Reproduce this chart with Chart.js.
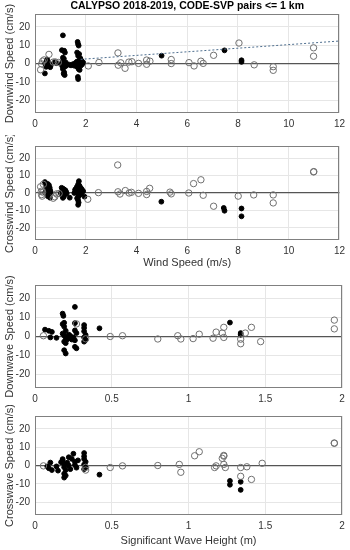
<!DOCTYPE html>
<html>
<head>
<meta charset="utf-8">
<script src="https://cdn.jsdelivr.net/npm/chart.js@4.4.0/dist/chart.umd.min.js"></script>
<style>
  html, body { margin: 0; padding: 0; background: #fff; }
  #page { position: relative; width: 350px; height: 550px; }
  .panel { position: absolute; left: 0; width: 350px; }
</style>
</head>
<body>
<div id="page">
  <div class="panel" style="top:0;height:135px"><canvas id="downwind"></canvas></div>
  <div class="panel" style="top:135px;height:135px"><canvas id="crosswind"></canvas></div>
  <div class="panel" style="top:270px;height:135px"><canvas id="downwave"></canvas></div>
  <div class="panel" style="top:405px;height:145px"><canvas id="crosswave"></canvas></div>
</div>
<script>
// tick labels
const WIND_TICKS = [0, 2, 4, 6, 8, 10, 12];
const HS_TICKS = [0, 0.5, 1, 1.5, 2];
const SPEED_TICKS = [-20, -10, 0, 10, 20];

// downwind speed vs wind speed, [wind, cm/s]
const downwindOpen = [[0.22, -3.4], [0.26, -0.2], [0.3, 1.3], [0.36, 2.0], [0.55, 5.0], [0.72, 0.8], [0.8, 0.9], [0.92, 0.6],
  [2.1, -1.3], [2.52, 0.6], [3.27, 5.8], [3.28, -0.9], [3.38, 0.4], [3.55, -2.6], [3.7, 0.8], [3.82, 1.0], [4.08, 0.1],
  [4.4, 1.9], [4.4, -0.4], [4.53, 1.3], [5.37, 2.2], [5.37, 0.0], [6.07, 0.5], [6.27, -1.3], [6.54, 1.3], [6.63, 0.1],
  [7.04, 4.5], [8.04, 11.2], [8.64, -0.7], [9.39, -1.7], [9.39, -3.7], [10.98, 8.6], [10.98, 4.0]];
const downwindFilled = [[0.39, -5.4], [0.42, -0.8], [0.45, 0.6], [0.47, 1.5], [0.5, -0.3], [0.52, -1.4], [0.55, 0.3],
  [0.58, -0.6], [0.6, -2.0], [0.62, -1.0], [0.44, -1.8], [0.48, 2.2], [0.4, 0.2], [0.78, 0.8], [0.85, 0.2],
  [1.1, 15.4], [1.06, 7.3], [1.15, 7.0], [1.18, 6.0], [1.1, 3.2], [1.14, 2.6], [1.08, 1.0], [1.12, 0.3], [1.16, -0.5],
  [1.07, -1.2], [1.12, -2.0], [1.2, -1.5], [1.1, -3.0], [1.15, -4.8], [1.13, -5.6], [1.17, -6.3], [1.05, -0.3],
  [1.22, 0.5], [1.25, -0.8], [1.35, -0.6], [1.42, -1.0], [1.5, -0.3], [1.55, -1.2],
  [1.68, 11.8], [1.7, 10.6], [1.72, 9.8], [1.66, 6.0], [1.74, 5.2], [1.7, 4.2], [1.78, 3.0], [1.65, 1.0], [1.7, 0.2],
  [1.75, -0.5], [1.62, -0.8], [1.8, -1.2], [1.68, -2.0], [1.72, -3.0], [1.76, -3.5], [1.69, -7.3], [1.7, -8.5],
  [1.83, 1.5], [1.86, -0.4], [1.6, 0.3], [1.9, 0.5], [1.8, 2.2], [1.66, -1.5], [1.74, 1.6],
  [4.99, 4.3], [7.47, 7.2], [8.14, 1.8], [8.14, 0.9]];
const downwindFit = [[1.8, 2.3], [12, 12.3]];

// crosswind speed vs wind speed
const crosswindOpen = [[0.22, 3.6], [0.25, 1.0], [0.26, -0.9], [0.28, -1.8], [0.33, 5.0], [0.3, 0.5], [0.72, -3.0],
  [0.78, -2.2], [0.85, -0.5], [0.95, -0.3], [2.08, -3.6], [2.5, 0.2], [3.26, 16.1], [3.27, 0.7], [3.35, -0.6],
  [3.56, 1.4], [3.71, 0.0], [3.8, 0.4], [4.08, -0.2], [4.4, 0.9], [4.4, -0.9], [4.52, 2.7], [5.32, 0.5], [5.37, -0.5],
  [6.06, 0.0], [6.25, 5.4], [6.54, 7.6], [6.63, -1.3], [7.04, -7.6], [8.01, -1.8], [8.62, -1.1], [9.39, -1.1],
  [9.39, -5.7], [10.98, 12.1], [10.99, 12.3]];
const crosswindFilled = [[0.39, 6.3], [0.42, 5.0], [0.45, 3.6], [0.4, 0.3], [0.47, 0.0], [0.5, 5.2], [0.55, 4.5],
  [0.58, 3.0], [0.6, 1.5], [0.52, 2.0], [0.5, -1.8], [0.59, -2.7], [0.45, -0.6], [0.62, 0.4],
  [1.05, 3.0], [1.1, 2.5], [1.15, 2.0], [1.2, 1.5], [1.08, 1.0], [1.12, 0.2], [1.18, -0.5], [1.06, -1.2], [1.14, -2.0],
  [1.1, -2.8], [1.22, 0.8], [1.25, -0.3], [1.37, -2.7], [1.02, -0.2],
  [1.73, 6.8], [1.7, 5.0], [1.75, 4.2], [1.65, 3.5], [1.8, 3.0], [1.6, 2.2], [1.85, 2.0], [1.7, 1.5], [1.78, 0.8],
  [1.62, 0.5], [1.68, -0.3], [1.76, -1.0], [1.72, -2.0], [1.66, -3.0], [1.7, -4.2], [1.72, -5.5], [1.7, -6.8],
  [1.95, -2.1], [1.55, 0.0], [1.58, 1.8], [1.82, -0.5], [1.9, 1.0],
  [4.98, -5.0], [7.44, -8.6], [7.47, -10.2], [8.14, -8.9], [8.14, -13.4]];

// downwave speed vs significant wave height
const downwaveOpen = [[0.055, 0.4], [0.27, 6.6], [0.33, -1.2], [0.49, 0.0], [0.57, 0.4], [0.8, -1.3], [0.93, 0.4],
  [0.95, -1.3], [1.03, -1.1], [1.07, 1.2], [1.16, -0.9], [1.18, 2.3], [1.22, 1.8], [1.23, -0.5], [1.23, 4.8],
  [1.34, -1.4], [1.34, -3.8], [1.37, 1.8], [1.41, 4.8], [1.47, -2.7], [1.95, 8.6], [1.95, 4.0]];
const downwaveFilled = [[0.065, 3.6], [0.09, 3.0], [0.11, 2.4], [0.1, -0.5], [0.14, -0.7], [0.18, 12.0], [0.185, 10.8],
  [0.19, 7.2], [0.18, 6.5], [0.19, 5.2], [0.2, 3.0], [0.18, 1.5], [0.19, 0.5], [0.2, -0.5], [0.21, -1.5], [0.19, -2.7],
  [0.2, -3.5], [0.19, -7.2], [0.2, -8.9], [0.22, -0.8], [0.23, 0.3], [0.24, -1.6], [0.22, 1.0],
  [0.26, 15.5], [0.26, 7.0], [0.26, 3.2], [0.27, 1.8], [0.25, -0.5], [0.26, -2.0], [0.26, -5.4], [0.27, -6.2],
  [0.32, 6.0], [0.32, 4.5], [0.32, 2.7], [0.33, 0.8], [0.32, -0.5], [0.33, -1.8], [0.32, -2.7],
  [0.42, 4.3], [1.27, 7.3], [1.34, 1.8], [1.34, 0.9]];

// crosswave speed vs significant wave height
const crosswaveOpen = [[0.055, -0.2], [0.33, -2.5], [0.33, -1.0], [0.49, -1.1], [0.57, -0.2], [0.8, 0.0], [0.94, 0.6],
  [0.95, -3.7], [1.04, 5.3], [1.07, 7.5], [1.17, -1.1], [1.18, -0.2], [1.22, 3.9], [1.23, 5.1], [1.23, 5.5],
  [1.23, 0.6], [1.24, -1.1], [1.34, -1.1], [1.34, -5.9], [1.38, -0.7], [1.41, -7.6], [1.48, 1.2], [1.95, 12.1],
  [1.95, 12.3]];
const crosswaveFilled = [[0.08, -0.5], [0.1, 1.6], [0.09, -1.5], [0.11, -2.5], [0.14, -0.5], [0.15, -2.8], [0.17, 1.8],
  [0.18, 2.8], [0.18, 3.5], [0.19, 0.8], [0.19, -1.0], [0.2, -2.5], [0.19, -4.5], [0.19, -6.6], [0.2, -5.5],
  [0.21, 1.5], [0.22, 4.5], [0.22, 0.0], [0.23, -2.0], [0.24, 3.6], [0.25, 6.4], [0.26, 2.0], [0.26, 0.3],
  [0.27, -1.2], [0.28, 2.8], [0.32, 6.8], [0.32, 5.0], [0.32, 3.5], [0.33, 2.0], [0.32, 0.5], [0.33, -1.0],
  [0.32, -2.0], [0.42, -5.0], [1.27, -8.4], [1.27, -10.5], [1.34, -8.9], [1.34, -13.3]];

Chart.defaults.font.family = '"Liberation Sans", Arial, sans-serif';
Chart.defaults.color = '#333';

// MATLAB style box around the plot area
const boxPlugin = {
  id: 'box',
  afterDraw: function (chart) {
    var a = chart.chartArea, ctx = chart.ctx;
    ctx.save();
    ctx.strokeStyle = '#808080';
    ctx.lineWidth = 1;
    ctx.strokeRect(Math.round(a.left) + 0.5, Math.round(a.top) + 0.5, Math.round(a.width) - 1, Math.round(a.height) - 1);
    ctx.restore();
  }
};

function toPoints(list) {
  return list.map(function (p) { return { x: p[0], y: p[1] }; });
}

function fixedTicks(values) {
  return function (scale) {
    scale.ticks = values.map(function (v) { return { value: v }; });
  };
}

function makePanel(id, cfg) {
  var datasets = [];
  if (cfg.fit) {
    datasets.push({
      data: toPoints(cfg.fit), showLine: true, borderColor: '#4f6f8f', borderWidth: 1,
      borderDash: [2, 2], pointRadius: 0
    });
  }
  datasets.push({
    data: toPoints(cfg.open), pointRadius: 3.2, borderWidth: 1,
    borderColor: '#707070', backgroundColor: 'rgba(255,255,255,0)'
  });
  datasets.push({
    data: toPoints(cfg.filled), pointRadius: 2.4, borderWidth: 1,
    borderColor: '#000', backgroundColor: '#000'
  });
  return new Chart(document.getElementById(id), {
    type: 'scatter',
    data: { datasets: datasets },
    options: {
      animation: false,
      responsive: true,
      maintainAspectRatio: false,
      devicePixelRatio: 1,
      layout: { padding: { top: cfg.padTop, right: 8, bottom: 0, left: 0 } },
      plugins: {
        legend: { display: false },
        tooltip: { enabled: false },
        title: {
          display: !!cfg.title, text: cfg.title, fullSize: false, color: '#000',
          font: { size: 10.5, weight: 'bold' }, padding: { top: 0, bottom: 1.5 }
        }
      },
      scales: {
        x: {
          type: 'linear', min: cfg.xTicks[0], max: cfg.xTicks[cfg.xTicks.length - 1],
          afterBuildTicks: fixedTicks(cfg.xTicks),
          afterFit: function (s) { s.height = cfg.xHeight; },
          border: { display: false },
          grid: { color: '#e6e6e6', drawTicks: false },
          ticks: { font: { size: 10 }, padding: 5, maxRotation: 0, callback: function (v) { return String(v); } },
          title: {
            display: !!cfg.xTitle, text: cfg.xTitle, font: { size: 11 }, color: '#333',
            padding: { top: 0, bottom: cfg.xTitlePad || 0 }
          }
        },
        y: {
          min: -27, max: 27,
          afterBuildTicks: fixedTicks(SPEED_TICKS),
          afterFit: function (s) { s.width = 35; },
          border: { display: false },
          grid: {
            drawTicks: false,
            color: function (c) { return c.tick && c.tick.value === 0 ? '#555' : '#e6e6e6'; },
            lineWidth: function (c) { return c.tick && c.tick.value === 0 ? 1.2 : 1; }
          },
          ticks: { font: { size: 10 }, padding: 5, callback: function (v) { return String(v); } },
          title: { display: true, text: cfg.yTitle, font: { size: 11 }, color: '#333', padding: { top: 3, bottom: 0 } }
        }
      }
    },
    plugins: [boxPlugin]
  });
}

makePanel('downwind', {
  title: 'CALYPSO 2018-2019, CODE-SVP pairs <= 1 km', yTitle: 'Downwind Speed (cm/s)',
  xTicks: WIND_TICKS, open: downwindOpen, filled: downwindFilled, fit: downwindFit, padTop: 0, xHeight: 22
});
makePanel('crosswind', {
  yTitle: 'Crosswind Speed (cm/s)', xTitle: 'Wind Speed (m/s)',
  xTicks: WIND_TICKS, open: crosswindOpen, filled: crosswindFilled, padTop: 9, xHeight: 30
});
makePanel('downwave', {
  yTitle: 'Downwave Speed (cm/s)',
  xTicks: HS_TICKS, open: downwaveOpen, filled: downwaveFilled, padTop: 15, xHeight: 17
});
makePanel('crosswave', {
  yTitle: 'Crosswave Speed (cm/s)', xTitle: 'Significant Wave Height (m)', xTitlePad: 2,
  xTicks: HS_TICKS, open: crosswaveOpen, filled: crosswaveFilled, padTop: 10, xHeight: 35
});
</script>
</body>
</html>
